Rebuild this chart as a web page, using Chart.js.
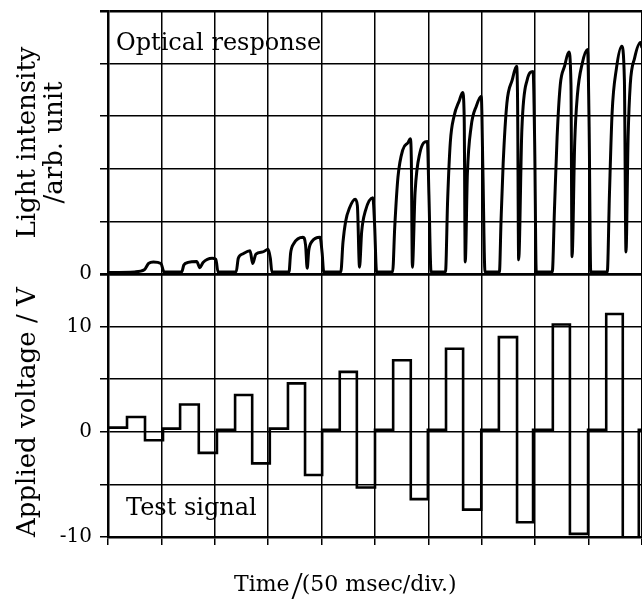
<!DOCTYPE html>
<html><head><meta charset="utf-8">
<script src="https://cdn.jsdelivr.net/npm/chart.js@4.4.1/dist/chart.umd.min.js"></script>
<style>html,body{margin:0;padding:0;background:#fff;overflow:hidden}canvas{display:block}</style>
</head><body>
<canvas id="c" width="642" height="604"></canvas>
<script>
// time axis in divisions (1 div = 50 msec)
const timeTicks = [0,1,2,3,4,5,6,7,8,9,10];

// ---- Test signal (applied voltage, V) ----
const pulseOn   = [0.356, 1.35, 2.38, 3.37, 4.34, 5.34, 6.33, 7.32, 8.33, 9.33];
const pulseFlip = [0.693, 1.70, 2.70, 3.69, 4.66, 5.67, 6.65, 7.66, 8.65, 9.64];
const pulseOff  = [1.03, 2.04, 3.03, 4.01, 5.00, 5.99, 6.99, 7.96, 8.99, 9.94];
const restVolt  = [0.4, 0.3, 0.2, 0.3, 0.2, 0.2, 0.2, 0.2, 0.2, 0.2];
const posVolt   = [1.4, 2.6, 3.5, 4.6, 5.7, 6.8, 7.9, 9.0, 10.2, 11.2];
const negVolt   = [-0.8, -2.0, -3.0, -4.1, -5.3, -6.4, -7.4, -8.6, -9.7, -10.7];
const voltTickLabels = [10, 0, -10];

// ---- Optical response (light intensity, arb. unit = divisions) ----
const lightTime = [
  0, 0.5, 0.68, 0.76, 0.85, 0.99, 1.05,
  1.38, 1.42, 1.5, 1.66, 1.72, 1.78, 1.95, 2.02, 2.06,
  2.40, 2.44, 2.52, 2.66, 2.71, 2.77, 2.9, 3.0, 3.04, 3.07,
  3.39, 3.42, 3.48, 3.65, 3.70, 3.73, 3.76, 3.82, 3.97, 4.01, 4.04,
  4.36, 4.40, 4.45, 4.52, 4.63, 4.67, 4.71, 4.75, 4.82, 4.96, 4.99, 5.03,
  5.33, 5.37, 5.43, 5.52, 5.62, 5.66, 5.68, 5.70, 5.75, 5.84, 5.98, 6.01, 6.05,
  6.32, 6.36, 6.41, 6.48, 6.58, 6.64, 6.67, 6.69, 6.73, 6.80, 6.90, 6.99, 7.02, 7.06,
  7.33, 7.36, 7.40, 7.47, 7.57, 7.65, 7.67, 7.69, 7.75, 7.85, 7.96, 7.99, 8.02,
  8.32, 8.36, 8.41, 8.47, 8.55, 8.63, 8.67, 8.69, 8.74, 8.79, 8.88, 8.98, 9.01, 9.04,
  9.35, 9.39, 9.44, 9.52, 9.62, 9.67, 9.70, 9.74, 9.78, 9.86, 9.97, 10.0
];
const lightLevel = [
  0.03, 0.04, 0.08, 0.2, 0.23, 0.2, 0.04,
  0.04, 0.17, 0.22, 0.24, 0.12, 0.22, 0.3, 0.28, 0.04,
  0.04, 0.3, 0.38, 0.44, 0.2, 0.38, 0.42, 0.47, 0.3, 0.04,
  0.04, 0.4, 0.58, 0.7, 0.55, 0.11, 0.45, 0.62, 0.7, 0.4, 0.04,
  0.04, 0.6, 1.0, 1.25, 1.42, 1.3, 0.13, 0.8, 1.2, 1.45, 1.0, 0.04,
  0.04, 0.9, 1.84, 2.36, 2.5, 2.57, 2.2, 0.13, 1.54, 2.3, 2.52, 1.5, 0.04,
  0.04, 1.4, 2.5, 3.0, 3.3, 3.45, 3.0, 0.23, 1.9, 2.8, 3.2, 3.38, 2.0, 0.04,
  0.04, 1.0, 2.1, 3.25, 3.69, 3.95, 3.3, 0.27, 2.74, 3.69, 3.85, 2.5, 0.04,
  0.04, 1.2, 2.6, 3.6, 3.95, 4.22, 3.6, 0.33, 2.5, 3.4, 4.0, 4.27, 2.8, 0.04,
  0.04, 1.5, 3.06, 3.9, 4.33, 3.7, 0.42, 2.6, 3.6, 4.1, 4.4, 4.3
];
const lightTickLabels = [0];

// ---- build point tables ----
const voltPoints = [{x: 0, y: restVolt[0]}];
for (let i = 0; i < posVolt.length; i++) {
  const nextRest = i + 1 < restVolt.length ? restVolt[i + 1] : restVolt[i];
  voltPoints.push({x: pulseOn[i], y: restVolt[i]}, {x: pulseOn[i], y: posVolt[i]},
                  {x: pulseFlip[i], y: posVolt[i]}, {x: pulseFlip[i], y: negVolt[i]},
                  {x: pulseOff[i], y: negVolt[i]}, {x: pulseOff[i], y: nextRest});
}
voltPoints.push({x: timeTicks[timeTicks.length - 1], y: restVolt[restVolt.length - 1]});
const lightPoints = lightTime.map((t, i) => ({x: t, y: lightLevel[i]}));

const FAM = '"DejaVu Serif", serif';
const BLACK = '#000';

const textPlugin = {
  id: 'texts',
  afterDraw(chart) {
    const {ctx, chartArea: a} = chart;
    ctx.save();
    ctx.fillStyle = BLACK;
    ctx.textBaseline = 'alphabetic';
    ctx.textAlign = 'left';
    ctx.font = '24px ' + FAM;
    ctx.fillText('Optical response', a.left + 8, a.top + 39);
    ctx.fillText('Test signal', a.left + 18, a.bottom - 22);
    let x = 234, y = 591;
    ctx.font = '22px ' + FAM;
    ctx.fillText('Time', x, y);
    x += ctx.measureText('Time').width + 2;
    ctx.font = '40px "Liberation Serif", serif';
    ctx.fillText('/', x, y + 8);
    x += ctx.measureText('/').width - 1;
    ctx.font = '22px ' + FAM;
    ctx.fillText('(50 msec/div.)', x, y);
    ctx.restore();
  }
};

function noPad(s) { s.width = 108; s.paddingTop = 0; s.paddingBottom = 0; }

new Chart(document.getElementById('c'), {
  type: 'line',
  data: {
    datasets: [
      {data: lightPoints, xAxisID: 'x', yAxisID: 'yL', borderColor: BLACK, borderWidth: 3,
       pointRadius: 0, cubicInterpolationMode: 'monotone', fill: false},
      {data: voltPoints, xAxisID: 'x', yAxisID: 'yV', borderColor: BLACK, borderWidth: 2.6,
       pointRadius: 0, tension: 0, fill: false}
    ]
  },
  options: {
    responsive: false, animation: false, devicePixelRatio: 1,
    layout: {padding: {top: 11, right: 0, bottom: 0, left: 0}},
    plugins: {legend: {display: false}, tooltip: {enabled: false}},
    scales: {
      x: {
        type: 'linear', position: 'bottom', min: timeTicks[0], max: timeTicks[timeTicks.length - 1],
        afterBuildTicks: s => { s.ticks = timeTicks.map(v => ({value: v})); },
        ticks: {callback: () => '', autoSkip: false, padding: 0, maxRotation: 0},
        grid: {color: BLACK, lineWidth: 1.5, tickLength: 8, drawTicks: true},
        border: {color: BLACK, width: 2.5},
        afterFit: s => { s.height = 67; s.paddingLeft = 0; s.paddingRight = 0; }
      },
      yV: {
        type: 'linear', position: 'left', stack: 'panels', stackWeight: 1, min: -10, max: 15,
        ticks: {stepSize: 5, autoSkip: false, padding: 8, color: BLACK,
                font: {family: FAM, size: 20},
                callback: v => voltTickLabels.includes(v) ? String(v) : ''},
        grid: {color: BLACK, tickLength: 8,
               lineWidth: c => (c.tick && c.tick.value === 15) ? 2.5 : 1.5},
        border: {color: BLACK, width: 2.5},
        title: {display: true, text: 'Applied voltage / V', color: BLACK, align: 'start',
                font: {family: FAM, size: 26, lineHeight: 1.04}, padding: {top: 15, bottom: 0}},
        afterFit: noPad
      },
      yL: {
        type: 'linear', position: 'left', stack: 'panels', stackWeight: 1, min: 0, max: 5,
        ticks: {stepSize: 1, autoSkip: false, padding: 8, color: BLACK,
                font: {family: FAM, size: 20},
                callback: v => lightTickLabels.includes(v) ? String(v) : ''},
        grid: {color: BLACK, tickLength: 8,
               lineWidth: c => (c.tick && (c.tick.value === 0 || c.tick.value === 5)) ? 2.5 : 1.5},
        border: {color: BLACK, width: 2.5},
        title: {display: true, text: ['Light intensity', '/arb. unit'], color: BLACK,
                font: {family: FAM, size: 26, lineHeight: 1.04}, padding: {top: 15, bottom: 0}},
        afterFit: noPad
      }
    }
  },
  plugins: [textPlugin]
});
</script>
</body></html>
